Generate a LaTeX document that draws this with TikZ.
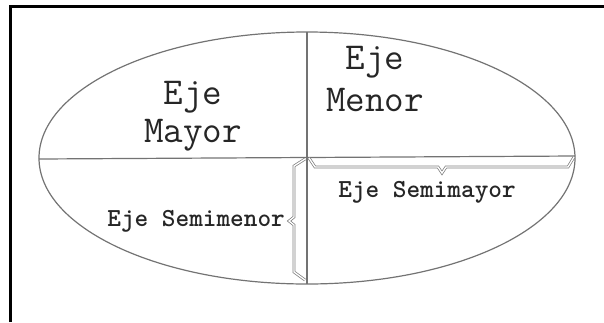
\documentclass[tikz,border=0pt]{standalone}
\usepackage{fontspec}
\begin{document}
\begin{tikzpicture}[x=1pt,y=-1pt,
  axisline/.style={draw=black!55,line width=1.2pt},
  bracel/.style={draw=black!50,line width=0.75pt,double=white,double distance=1.3pt,line join=miter},
  bigtxt/.style={font=\ttfamily\fontsize{38}{40}\selectfont,text=black!85,inner sep=0pt,anchor=base},
  smalltxt/.style={font=\ttfamily\bfseries\fontsize{26}{28}\selectfont,text=black!85,inner sep=0pt,anchor=base}]
\useasboundingbox (0,0) rectangle (604,322);
% frame
\draw[line width=3pt,line cap=butt,line join=miter] (10,322) |- (604,6.5);
% ellipse
\draw[axisline] (307,158) ellipse [x radius=268,y radius=126];
\coordinate (L) at (39,159);
\coordinate (R) at (575,156);
\coordinate (T) at (307,32);
\coordinate (B) at (307,284);
\draw[axisline] (L) -- (R);
\draw[axisline] (T) -- (B);
% semimayor brace
\draw[bracel] (309,158) -- (315,167) -- (438,167) -- (442,173) -- (446,167) -- (568,167) -- (574,157);
% semimenor brace
\draw[bracel] (305,159) -- (294,166) -- (294,217) -- (289,221) -- (294,225) -- (294,272) -- (305,280);
% texts
\node[bigtxt] (t1) at (193,104) {Eje};
\node[bigtxt] (t2) at (193,142) {Mayor};
\node[bigtxt] (t3) at (375,69) {Eje};
\node[bigtxt] (t4) at (375,111) {Menor};
\node[smalltxt] (s1) at (427,197) {Eje Semimayor};
\node[smalltxt,anchor=base east] (s2) at (285,226) {Eje Semimenor};
\end{tikzpicture}
\end{document}
